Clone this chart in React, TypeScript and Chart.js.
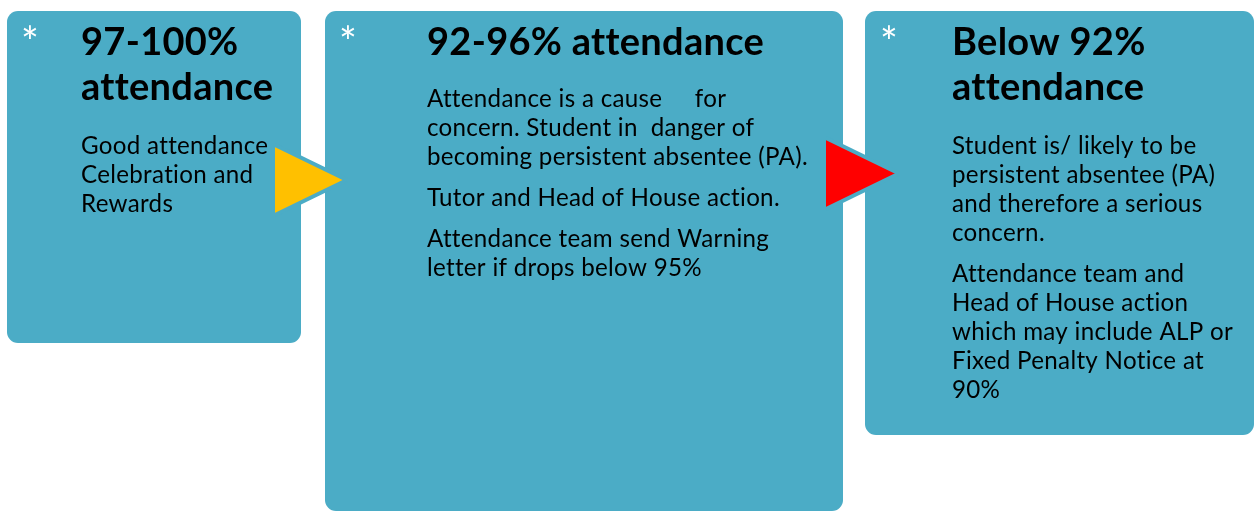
import React, { useEffect, useRef } from "react";
import { Chart, registerables } from "chart.js";

Chart.register(...registerables);

// ---- Data ----
const boxNames = ["97-100% attendance", "92-96% attendance", "Below 92% attendance"];
const boxLeft = [7, 325, 865];
const boxRight = [301, 843, 1254];
const boxTop = [11, 11, 11];
const boxBottom = [343, 511, 435];

const titleLines = [["97-100%", "attendance"], ["92-96% attendance"], ["Below 92%", "attendance"]];
const bodyParagraphs = [
  [["Good attendance", "Celebration and", "Rewards"]],
  [
    ["Attendance is a cause     for", "concern. Student in  danger of", "becoming persistent absentee (PA)."],
    ["Tutor and Head of House action."],
    ["Attendance team send Warning", "letter if drops below 95%"],
  ],
  [
    ["Student is/ likely to be", "persistent absentee (PA)", "and therefore a serious", "concern."],
    ["Attendance team and", "Head of House action", "which may include ALP or", "Fixed Penalty Notice at", "90%"],
  ],
];

// arrows: upper edge and lower edge points (x, y)
const yellowUpperX = [275, 347];
const yellowUpperY = [145, 180];
const yellowLowerX = [275, 347];
const yellowLowerY = [215, 180];
const redUpperX = [826, 899];
const redUpperY = [138, 173.5];
const redLowerX = [826, 899];
const redLowerY = [209, 173.5];

// ---- Layout / style ----
const TEAL = "#4BACC6";
const textX = [81, 427, 952];
const starX = [21, 339, 880];
const starBaseline = 57;
const titleBaseline = 55;
const titleGap = 45;
const bodyStart = [154, 107, 154];
const lineGap = 29;
const paraGap = 41;
const FONT = "Lato, 'Open Sans', sans-serif";

const textPlugin = {
  id: "boxText",
  afterDatasetsDraw(chart: any) {
    const ctx = chart.ctx;
    const xs = chart.scales.x;
    const ys = chart.scales.y;
    ctx.save();
    ctx.textBaseline = "alphabetic";
    ctx.textAlign = "left";
    // small letter spacing keeps letters like "tt" apart (no ligatures)
    (ctx as any).letterSpacing = "0.3px";
    ctx.font = `bold 100px ${FONT}`;
    const titleSize = (100 * 334) / ctx.measureText("92-96% attendance").width;
    ctx.font = `100px ${FONT}`;
    const bodySize = (100 * 336) / ctx.measureText("Attendance team send Warning").width;

    for (let i = 0; i < boxNames.length; i++) {
      ctx.fillStyle = "#ffffff";
      ctx.font = `42px ${FONT}`;
      ctx.fillText("*", xs.getPixelForValue(starX[i]), ys.getPixelForValue(starBaseline));

      ctx.fillStyle = "#000000";
      ctx.font = `bold ${titleSize}px ${FONT}`;
      titleLines[i].forEach((t, j) => {
        ctx.fillText(t, xs.getPixelForValue(textX[i]), ys.getPixelForValue(titleBaseline + j * titleGap));
      });
      ctx.font = `${bodySize}px ${FONT}`;
      let y = bodyStart[i];
      bodyParagraphs[i].forEach((para, p) => {
        if (p > 0) y += paraGap - lineGap;
        para.forEach((line) => {
          ctx.fillText(line, xs.getPixelForValue(textX[i]), ys.getPixelForValue(y));
          y += lineGap;
        });
      });
    }
    ctx.restore();
  },
};

function pts(xa: number[], ya: number[]) {
  return xa.map((x, i) => ({ x, y: ya[i] }));
}

export default function App() {
  const ref = useRef<HTMLCanvasElement | null>(null);
  useEffect(() => {
    if (!ref.current) return;
    const lineBase = {
      type: "line" as const,
      pointRadius: 0,
      tension: 0,
      borderColor: TEAL,
      borderWidth: 4,
    };
    const barSets = boxNames.map((name, i) => ({
      type: "bar" as const,
      label: name,
      data: [{ x: (boxLeft[i] + boxRight[i]) / 2, y: [boxTop[i], boxBottom[i]] }],
      backgroundColor: TEAL,
      borderWidth: 0,
      borderRadius: 11,
      borderSkipped: false,
      barThickness: boxRight[i] - boxLeft[i],
      stack: "boxes",
      inflateAmount: 0,
    }));
    const chart = new Chart(ref.current, {
      type: "bar",
      data: {
        datasets: [
          { ...lineBase, label: "yellow-upper", data: pts(yellowUpperX, yellowUpperY), fill: false },
          { ...lineBase, label: "yellow-lower", data: pts(yellowLowerX, yellowLowerY), fill: "-1", backgroundColor: "#FFC000" },
          { ...lineBase, label: "red-upper", data: pts(redUpperX, redUpperY), fill: false },
          { ...lineBase, label: "red-lower", data: pts(redLowerX, redLowerY), fill: "-1", backgroundColor: "#FF0000" },
          ...barSets,
        ] as any,
      },
      options: {
        responsive: false,
        animation: false,
        layout: { padding: 0 },
        plugins: { legend: { display: false }, tooltip: { enabled: false } },
        scales: {
          x: { type: "linear", min: 0, max: 1255, offset: false, display: false },
          y: { type: "linear", min: 0, max: 511, reverse: true, display: false, stacked: false },
        },
      } as any,
      plugins: [textPlugin],
    });
    return () => chart.destroy();
  }, []);
  return (
    <div style={{ position: "fixed", left: 0, top: 0, width: 1255, height: 511, background: "#fff" }}>
      <canvas ref={ref} width={1255} height={511} style={{ width: 1255, height: 511, display: "block" }} />
    </div>
  );
}
